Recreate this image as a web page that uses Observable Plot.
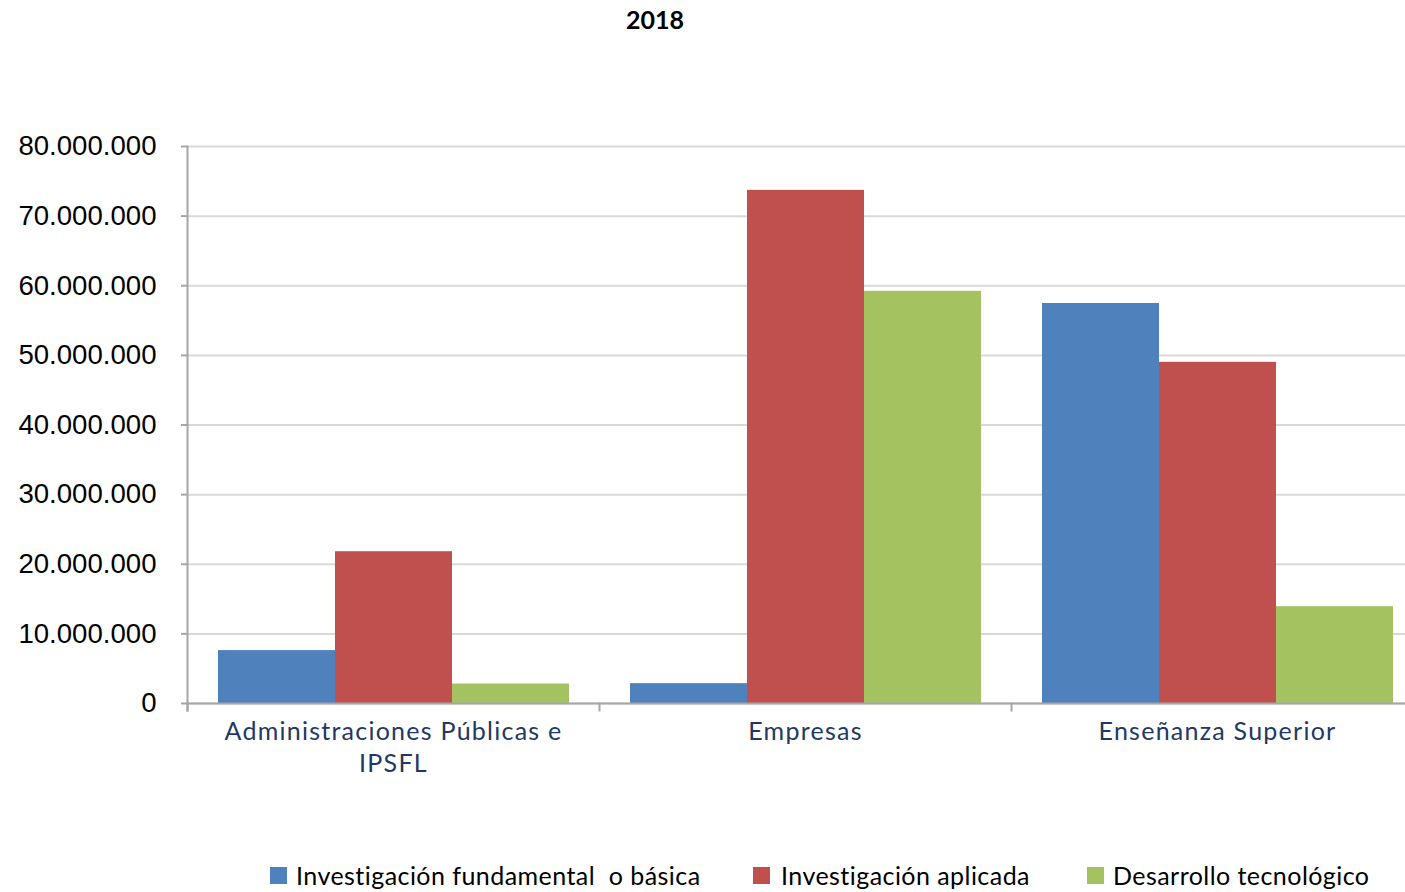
<!DOCTYPE html>
<html>
<head>
<meta charset="utf-8">
<script src="https://cdn.jsdelivr.net/npm/d3@7"></script>
<script src="https://cdn.jsdelivr.net/npm/@observablehq/plot@0.6"></script>
<style>
  html, body { margin: 0; padding: 0; background: #fff; }
  #wrap { position: relative; width: 1405px; height: 892px; overflow: hidden; }
  #title { position: absolute; top: 4px; left: 0; width: 1310px; text-align: center;
           font-family: Lato, sans-serif; font-weight: bold; font-size: 25px; color: #000; }
  #chart { position: absolute; top: 0; left: 0; width: 1424px; }
  #chart svg { max-width: none !important; }
  #legend { position: absolute; top: 0; left: 0; width: 1405px; height: 892px;
            font-family: Lato, sans-serif; font-size: 25px; color: #000; }
  .item { position: absolute; top: 860px; display: flex; align-items: center; white-space: pre; letter-spacing: 0.45px; }
  .sw { width: 17px; height: 17px; margin-right: 9px; }
</style>
</head>
<body>
<div id="wrap">
  <div id="title">2018</div>
  <div id="chart"></div>
  <div id="legend"></div>
</div>
<script>
const categories = ["Administraciones Públicas e IPSFL", "Empresas", "Enseñanza Superior"];
const categoryLabels = ["Administraciones Públicas e\nIPSFL", "Empresas", "Enseñanza Superior"];
const series = ["Investigación fundamental  o básica", "Investigación aplicada", "Desarrollo tecnológico"];
const basica = [7600000, 2850000, 57450000];
const aplicada = [21800000, 73700000, 49000000];
const desarrollo = [2800000, 59200000, 13900000];
const colors = ["#4F81BD", "#C0504D", "#A4C260"];
const yTicks = [0, 10000000, 20000000, 30000000, 40000000, 50000000, 60000000, 70000000, 80000000];

const values = [basica, aplicada, desarrollo];
const rows = [];
categories.forEach((c, i) => series.forEach((s, j) => rows.push({category: c, series: s, value: values[j][i]})));

const fmt = d3.formatLocale({decimal: ",", thousands: ".", grouping: [3], currency: ["", "€"]}).format(",d");
const axisGray = "#A6A6A6";

const chart = Plot.plot({
  width: 1424,
  height: 800,
  marginLeft: 186,
  marginRight: 0,
  marginTop: 146,
  marginBottom: 97,
  style: {fontFamily: "Liberation Sans, Arial, sans-serif", fontSize: "27.6px", color: "#000", background: "transparent", overflow: "visible", maxWidth: "none"},
  fx: {domain: categories, padding: 0, label: null},
  x: {domain: series, paddingInner: 0, paddingOuter: 0.26, axis: null},
  y: {domain: [0, 80000000], label: null},
  color: {domain: series, range: colors},
  marks: [
    Plot.gridY(yTicks, {stroke: "#D9D9D9", strokeOpacity: 1, strokeWidth: 2}),
    Plot.barY(rows, {fx: "category", x: "series", y: "value", fill: "series"}),
    Plot.ruleY([0], {stroke: axisGray, strokeWidth: 2}),
    Plot.frame({anchor: "left", facetAnchor: "left", stroke: axisGray, strokeWidth: 2, insetBottom: -7}),
    Plot.frame({anchor: "left", stroke: axisGray, strokeWidth: 2, insetTop: 557, insetBottom: -7}),
    Plot.axisY(yTicks, {tickSize: 6, tickPadding: 25, stroke: axisGray, strokeWidth: 2, fill: "#000", tickFormat: fmt, label: null,
                        fontSize: 27.6, fontFamily: "Liberation Sans, Arial, sans-serif"}),
    Plot.axisFx({anchor: "bottom", tickSize: 0, tickPadding: 14, label: null, lineHeight: 1.28,
                 tickFormat: d => categoryLabels[categories.indexOf(d)],
                 fill: "#1F3864", fontSize: 25, fontFamily: "Lato, sans-serif"})
  ]
});
document.getElementById("chart").appendChild(chart);
chart.querySelectorAll("text").forEach(t => {
  const g = t.closest("[font-family]");
  if (g && g.getAttribute("font-family").startsWith("Lato")) t.style.letterSpacing = "1.25px";
});

const legend = document.getElementById("legend");
const lefts = [270, 753, 1087];
series.forEach((s, i) => {
  const it = document.createElement("div");
  it.className = "item";
  it.style.left = lefts[i] + "px";
  const sw = document.createElement("div");
  sw.className = "sw";
  sw.style.background = colors[i];
  if (i === 1) sw.style.marginRight = "11px";
  const tx = document.createElement("span");
  tx.textContent = s;
  it.appendChild(sw);
  it.appendChild(tx);
  legend.appendChild(it);
});
</script>
</body>
</html>
